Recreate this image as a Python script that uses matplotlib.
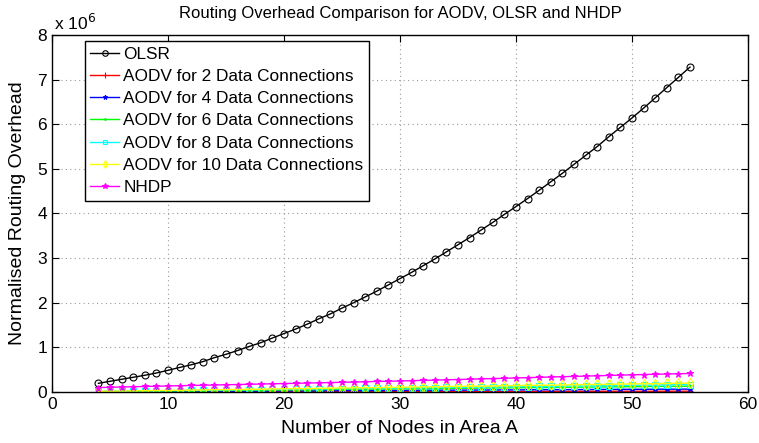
import matplotlib
matplotlib.use("Agg")
import matplotlib.pyplot as plt
import numpy as np

plt.rcParams['font.family'] = ['Liberation Sans', 'DejaVu Sans']

nodes = list(range(4, 56))

olsr = [0.195, 0.24, 0.285, 0.33, 0.375, 0.426, 0.486, 0.55, 0.61, 0.68,
        0.77, 0.845, 0.93, 1.02, 1.105, 1.21, 1.31, 1.41, 1.52, 1.64,
        1.75, 1.88, 2.00, 2.13, 2.26, 2.40, 2.54, 2.68, 2.83, 2.98,
        3.14, 3.30, 3.46, 3.63, 3.80, 3.98, 4.155, 4.334, 4.52, 4.71,
        4.90, 5.10, 5.30, 5.50, 5.72, 5.93, 6.14, 6.36, 6.59, 6.82,
        7.05, 7.28]

aodv2 = [0.002, 0.002, 0.003, 0.003, 0.004, 0.004, 0.004, 0.005, 0.005, 0.005,
         0.006, 0.006, 0.006, 0.007, 0.007, 0.007, 0.008, 0.008, 0.008, 0.009,
         0.009, 0.009, 0.010, 0.010, 0.010, 0.011, 0.011, 0.011, 0.012, 0.012,
         0.012, 0.013, 0.013, 0.013, 0.014, 0.014, 0.014, 0.015, 0.015, 0.015,
         0.015, 0.016, 0.016, 0.016, 0.016, 0.017, 0.017, 0.017, 0.017, 0.018,
         0.018, 0.018]

aodv4 = [0.005, 0.006, 0.007, 0.009, 0.010, 0.011, 0.012, 0.013, 0.015, 0.016,
         0.017, 0.018, 0.019, 0.021, 0.022, 0.023, 0.024, 0.025, 0.027, 0.028,
         0.029, 0.030, 0.031, 0.033, 0.034, 0.035, 0.036, 0.037, 0.039, 0.040,
         0.041, 0.042, 0.043, 0.045, 0.046, 0.047, 0.048, 0.049, 0.051, 0.052,
         0.053, 0.054, 0.055, 0.057, 0.058, 0.059, 0.060, 0.061, 0.062, 0.063,
         0.064, 0.065]

aodv6 = [0.009, 0.011, 0.014, 0.016, 0.018, 0.021, 0.023, 0.026, 0.028, 0.030,
         0.033, 0.035, 0.038, 0.040, 0.042, 0.045, 0.047, 0.050, 0.052, 0.054,
         0.057, 0.059, 0.062, 0.064, 0.066, 0.069, 0.071, 0.074, 0.076, 0.078,
         0.081, 0.083, 0.086, 0.088, 0.090, 0.093, 0.095, 0.098, 0.100, 0.102,
         0.105, 0.107, 0.110, 0.112, 0.114, 0.117, 0.119, 0.122, 0.124, 0.126,
         0.128, 0.130]

aodv8 = [0.012, 0.015, 0.018, 0.021, 0.024, 0.027, 0.030, 0.033, 0.036, 0.039,
         0.042, 0.045, 0.048, 0.051, 0.054, 0.057, 0.060, 0.063, 0.066, 0.069,
         0.072, 0.075, 0.078, 0.081, 0.084, 0.087, 0.090, 0.093, 0.096, 0.099,
         0.102, 0.105, 0.108, 0.111, 0.114, 0.117, 0.120, 0.123, 0.126, 0.129,
         0.132, 0.135, 0.138, 0.141, 0.144, 0.147, 0.150, 0.153, 0.156, 0.160,
         0.164, 0.168]

aodv10 = [0.015, 0.018, 0.022, 0.025, 0.029, 0.032, 0.036, 0.039, 0.043, 0.046,
          0.050, 0.053, 0.057, 0.060, 0.064, 0.067, 0.071, 0.074, 0.078, 0.081,
          0.085, 0.088, 0.092, 0.096, 0.099, 0.103, 0.107, 0.110, 0.114, 0.118,
          0.121, 0.125, 0.129, 0.132, 0.136, 0.140, 0.143, 0.147, 0.151, 0.154,
          0.158, 0.162, 0.166, 0.169, 0.173, 0.177, 0.181, 0.184, 0.188, 0.192,
          0.196, 0.200]

nhdp = [0.100, 0.106, 0.112, 0.118, 0.124, 0.130, 0.136, 0.141, 0.146, 0.152,
        0.157, 0.162, 0.168, 0.173, 0.179, 0.184, 0.190, 0.195, 0.201, 0.206,
        0.212, 0.218, 0.224, 0.230, 0.236, 0.242, 0.248, 0.254, 0.261, 0.267,
        0.274, 0.280, 0.287, 0.294, 0.301, 0.308, 0.315, 0.322, 0.329, 0.336,
        0.343, 0.350, 0.357, 0.364, 0.371, 0.378, 0.385, 0.391, 0.397, 0.403,
        0.409, 0.415]

labels = ["OLSR", "AODV for 2 Data Connections", "AODV for 4 Data Connections",
          "AODV for 6 Data Connections", "AODV for 8 Data Connections",
          "AODV for 10 Data Connections", "NHDP"]
series = [olsr, aodv2, aodv4, aodv6, aodv8, aodv10, nhdp]
colors = ["black", "red", "blue", "#00ff00", "cyan", "yellow", "magenta"]
markers = ["o", "+", "*", ".", "s", "d", "*"]
msizes = [5, 5, 4, 3, 4, 5, 5]

xticks = [0, 10, 20, 30, 40, 50, 60]
yticks = [0, 1, 2, 3, 4, 5, 6, 7, 8]

fig = plt.figure(figsize=(7.59, 4.43), dpi=100)
ax = fig.add_axes([0.0685, 0.1151, 0.917, 0.806])

for s, lab, c, m, ms in zip(series, labels, colors, markers, msizes):
    filled = m in ("*", ".")
    ax.plot(nodes, s, color=c, marker=m, markersize=ms, linewidth=1.0,
            markerfacecolor=(c if filled else "none"), markeredgecolor=c,
            markeredgewidth=0.8, label=lab)

ax.set_xlim(0, 60)
ax.set_ylim(0, 8)
ax.set_xticks(xticks)
ax.set_yticks(yticks)
ax.tick_params(direction="in", top=True, right=True, labelsize=12.5, length=5, width=0.8)
ax.grid(True, linestyle=(0, (1, 3)), color="#999999", linewidth=0.8)
for sp in ax.spines.values():
    sp.set_linewidth(1.0)

ax.set_xlabel("Number of Nodes in Area A", fontsize=14, labelpad=6)
ax.set_ylabel("Normalised Routing Overhead", fontsize=14, labelpad=8)
ax.set_title("Routing Overhead Comparison for AODV, OLSR and NHDP", fontsize=12, pad=12)
ax.text(0.003, 1.005, "x 10$^{6}$", transform=ax.transAxes, fontsize=12.5,
        ha="left", va="bottom")

leg = ax.legend(loc="upper left", bbox_to_anchor=(0.047, 0.982), borderaxespad=0,
                fontsize=12.4, handlelength=1.7, handletextpad=0.25, borderpad=0.3,
                labelspacing=0.42, fancybox=False, framealpha=1, edgecolor="black",
                markerscale=0.8)
leg.get_frame().set_linewidth(1.0)

fig.savefig("out.png", dpi=100)
